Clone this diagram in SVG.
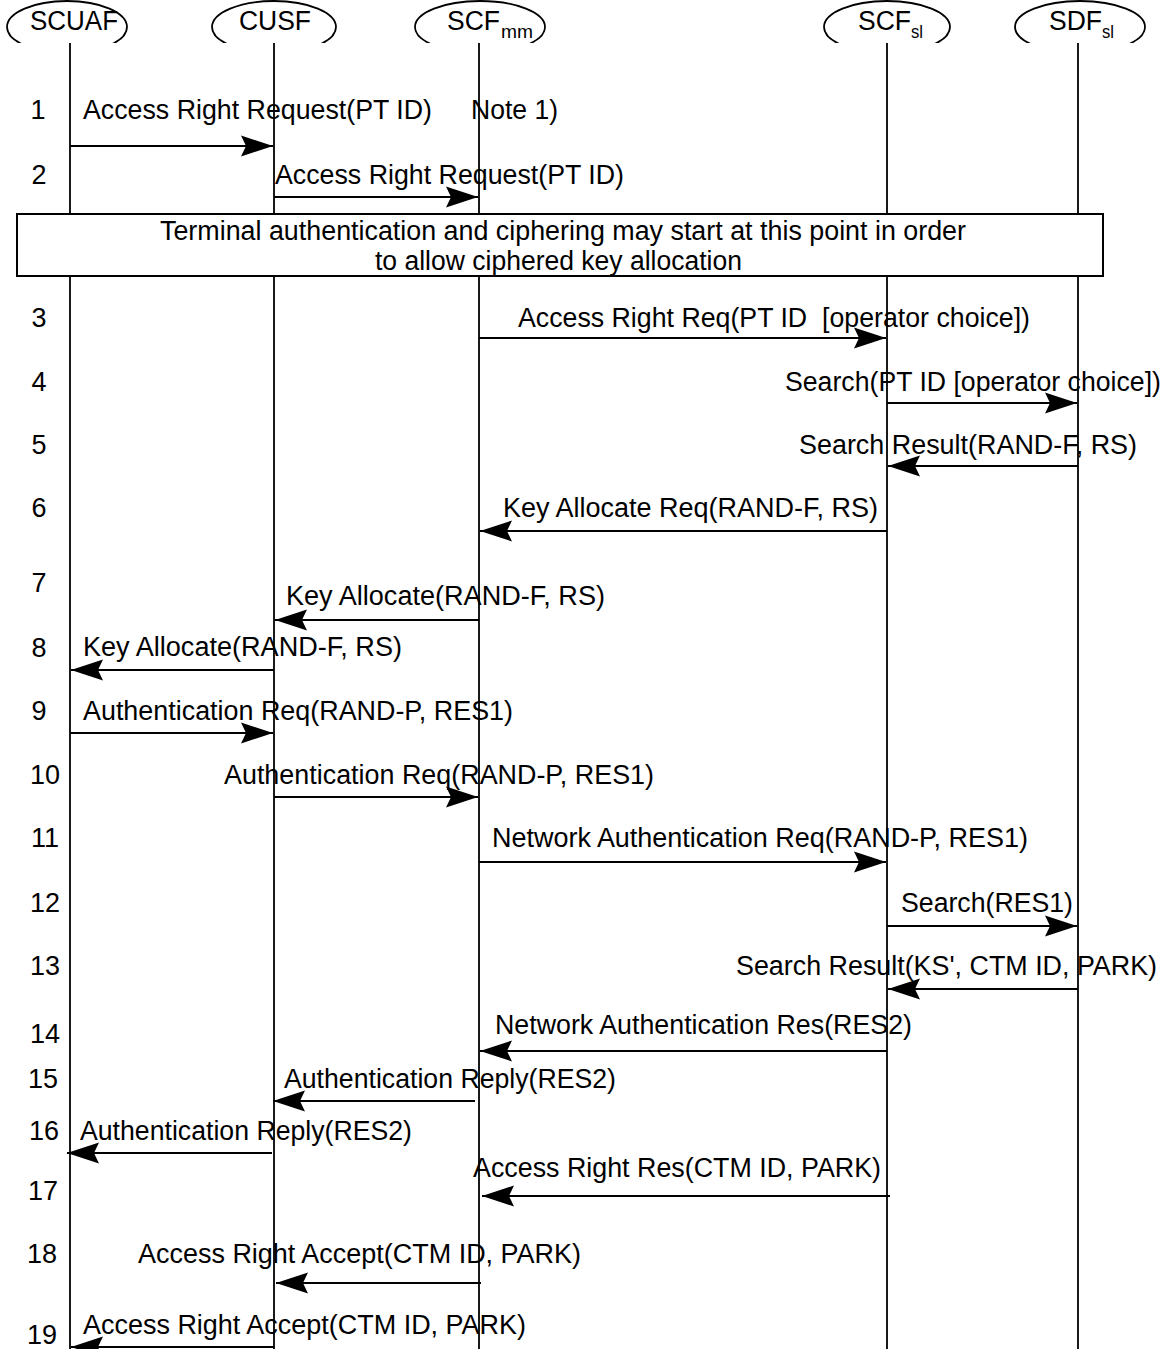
<svg xmlns="http://www.w3.org/2000/svg" width="1165" height="1349" viewBox="0 0 1165 1349">
  <style>
    .t { font-family: "Liberation Sans", Arial, sans-serif; font-size: 27px; fill: #000; white-space: pre; }
    .sub { font-family: "Liberation Sans", Arial, sans-serif; font-size: 18px; fill: #000; }
    .life { stroke: #000; stroke-width: 1.8; fill: none; }
    .msg { stroke: #000; stroke-width: 2; fill: none; marker-end: url(#head); }
    .hdr { fill: #fff; stroke: #000; stroke-width: 1.8; }
    .note { fill: #fff; stroke: #000; stroke-width: 2; }
  </style>
  <defs>
    <marker id="head" viewBox="-34 -12 35 24" refX="0" refY="0" markerWidth="35" markerHeight="24" markerUnits="userSpaceOnUse" orient="auto">
      <path d="M0,0 L-32,-10.5 L-27,0 L-32,10.5 Z" fill="#000"/>
    </marker>
    <clipPath id="hdrClip">
      <rect x="0" y="-10" width="1165" height="53"/>
    </clipPath>
  </defs>

  <rect width="1165" height="1349" fill="#fff"/>

  <!-- lifelines -->
  <g id="lifelines">
    <line class="life" x1="70" y1="43" x2="70" y2="1349"/>
    <line class="life" x1="274" y1="43" x2="274" y2="1349"/>
    <line class="life" x1="479" y1="43" x2="479" y2="1349"/>
    <line class="life" x1="887" y1="43" x2="887" y2="1349"/>
    <line class="life" x1="1078" y1="43" x2="1078" y2="1349"/>
  </g>

  <!-- entity headers (ellipses cut off at the lifeline start) -->
  <g id="SCUAF" clip-path="url(#hdrClip)">
    <ellipse class="hdr" cx="67" cy="27" rx="60" ry="26"/>
    <text class="t" x="30" y="30" textLength="88" lengthAdjust="spacingAndGlyphs">SCUAF</text>
  </g>
  <g id="CUSF" clip-path="url(#hdrClip)">
    <ellipse class="hdr" cx="274" cy="27" rx="62" ry="26"/>
    <text class="t" x="239" y="30" textLength="72" lengthAdjust="spacingAndGlyphs">CUSF</text>
  </g>
  <g id="SCFmm" clip-path="url(#hdrClip)">
    <ellipse class="hdr" cx="480" cy="27" rx="65" ry="26"/>
    <text class="t" x="447" y="30" textLength="53" lengthAdjust="spacingAndGlyphs">SCF</text>
    <text class="sub" x="501" y="38" textLength="32" lengthAdjust="spacingAndGlyphs">mm</text>
  </g>
  <g id="SCFsl" clip-path="url(#hdrClip)">
    <ellipse class="hdr" cx="887" cy="27" rx="63" ry="26"/>
    <text class="t" x="858" y="30" textLength="53" lengthAdjust="spacingAndGlyphs">SCF</text>
    <text class="sub" x="911" y="38" textLength="12" lengthAdjust="spacingAndGlyphs">sl</text>
  </g>
  <g id="SDFsl" clip-path="url(#hdrClip)">
    <ellipse class="hdr" cx="1080" cy="27" rx="65" ry="26"/>
    <text class="t" x="1049" y="30" textLength="53" lengthAdjust="spacingAndGlyphs">SDF</text>
    <text class="sub" x="1102" y="38" textLength="12" lengthAdjust="spacingAndGlyphs">sl</text>
  </g>

  <!-- note box across all lifelines -->
  <g id="note">
    <rect class="note" x="17" y="214" width="1086" height="62"/>
    <text class="t" x="160" y="240" textLength="806" lengthAdjust="spacingAndGlyphs">Terminal authentication and ciphering may start at this point in order</text>
    <text class="t" x="375" y="270" textLength="367" lengthAdjust="spacingAndGlyphs">to allow ciphered key allocation</text>
  </g>

  <!-- step numbers -->
  <g id="steps" class="t" text-anchor="middle">
    <text x="38" y="119">1</text>
    <text x="39" y="184">2</text>
    <text x="39" y="327">3</text>
    <text x="39" y="391">4</text>
    <text x="39" y="454">5</text>
    <text x="39" y="517">6</text>
    <text x="39" y="592">7</text>
    <text x="39" y="657">8</text>
    <text x="39" y="720">9</text>
    <text x="45" y="784">10</text>
    <text x="45" y="847">11</text>
    <text x="45" y="912">12</text>
    <text x="45" y="975">13</text>
    <text x="45" y="1043">14</text>
    <text x="43" y="1088">15</text>
    <text x="44" y="1140">16</text>
    <text x="43" y="1200">17</text>
    <text x="42" y="1263">18</text>
    <text x="42" y="1344">19</text>
  </g>

  <!-- message labels -->
  <g id="labels">
    <text class="t" x="83" y="119" textLength="349" lengthAdjust="spacingAndGlyphs">Access Right Request(PT ID)</text>
    <text class="t" x="471" y="119" textLength="87" lengthAdjust="spacingAndGlyphs">Note 1)</text>
    <text class="t" x="275" y="184" textLength="349" lengthAdjust="spacingAndGlyphs">Access Right Request(PT ID)</text>
    <text class="t" x="518" y="327" textLength="512" lengthAdjust="spacingAndGlyphs">Access Right Req(PT ID  [operator choice])</text>
    <text class="t" x="785" y="391" textLength="376" lengthAdjust="spacingAndGlyphs">Search(PT ID [operator choice])</text>
    <text class="t" x="799" y="454" textLength="338" lengthAdjust="spacingAndGlyphs">Search Result(RAND-F, RS)</text>
    <text class="t" x="503" y="517" textLength="375" lengthAdjust="spacingAndGlyphs">Key Allocate Req(RAND-F, RS)</text>
    <text class="t" x="286" y="605" textLength="319" lengthAdjust="spacingAndGlyphs">Key Allocate(RAND-F, RS)</text>
    <text class="t" x="83" y="656" textLength="319" lengthAdjust="spacingAndGlyphs">Key Allocate(RAND-F, RS)</text>
    <text class="t" x="83" y="720" textLength="430" lengthAdjust="spacingAndGlyphs">Authentication Req(RAND-P, RES1)</text>
    <text class="t" x="224" y="784" textLength="430" lengthAdjust="spacingAndGlyphs">Authentication Req(RAND-P, RES1)</text>
    <text class="t" x="492" y="847" textLength="536" lengthAdjust="spacingAndGlyphs">Network Authentication Req(RAND-P, RES1)</text>
    <text class="t" x="901" y="912" textLength="172" lengthAdjust="spacingAndGlyphs">Search(RES1)</text>
    <text class="t" x="736" y="975" textLength="421" lengthAdjust="spacingAndGlyphs">Search Result(KS', CTM ID, PARK)</text>
    <text class="t" x="495" y="1034" textLength="417" lengthAdjust="spacingAndGlyphs">Network Authentication Res(RES2)</text>
    <text class="t" x="284" y="1088" textLength="332" lengthAdjust="spacingAndGlyphs">Authentication Reply(RES2)</text>
    <text class="t" x="80" y="1140" textLength="332" lengthAdjust="spacingAndGlyphs">Authentication Reply(RES2)</text>
    <text class="t" x="473" y="1177" textLength="408" lengthAdjust="spacingAndGlyphs">Access Right Res(CTM ID, PARK)</text>
    <text class="t" x="138" y="1263" textLength="443" lengthAdjust="spacingAndGlyphs">Access Right Accept(CTM ID, PARK)</text>
    <text class="t" x="83" y="1334" textLength="443" lengthAdjust="spacingAndGlyphs">Access Right Accept(CTM ID, PARK)</text>
  </g>

  <!-- message arrows -->
  <g id="connectors">
    <line class="msg" x1="70" y1="146" x2="273" y2="146"/>
    <line class="msg" x1="274" y1="197" x2="478" y2="197"/>
    <line class="msg" x1="479" y1="338" x2="886" y2="338"/>
    <line class="msg" x1="887" y1="403" x2="1077" y2="403"/>
    <line class="msg" x1="1078" y1="466" x2="888" y2="466"/>
    <line class="msg" x1="887" y1="531" x2="480" y2="531"/>
    <line class="msg" x1="479" y1="620" x2="275" y2="620"/>
    <line class="msg" x1="274" y1="670" x2="71" y2="670"/>
    <line class="msg" x1="70" y1="733" x2="273" y2="733"/>
    <line class="msg" x1="274" y1="797" x2="478" y2="797"/>
    <line class="msg" x1="479" y1="862" x2="886" y2="862"/>
    <line class="msg" x1="887" y1="926" x2="1077" y2="926"/>
    <line class="msg" x1="1078" y1="989" x2="888" y2="989"/>
    <line class="msg" x1="887" y1="1051" x2="480" y2="1051"/>
    <line class="msg" x1="475" y1="1101" x2="273" y2="1101"/>
    <line class="msg" x1="272" y1="1153" x2="67" y2="1153"/>
    <line class="msg" x1="890" y1="1196" x2="482" y2="1196"/>
    <line class="msg" x1="481" y1="1283" x2="276" y2="1283"/>
    <line class="msg" x1="274" y1="1347" x2="71" y2="1347"/>
  </g>
</svg>
